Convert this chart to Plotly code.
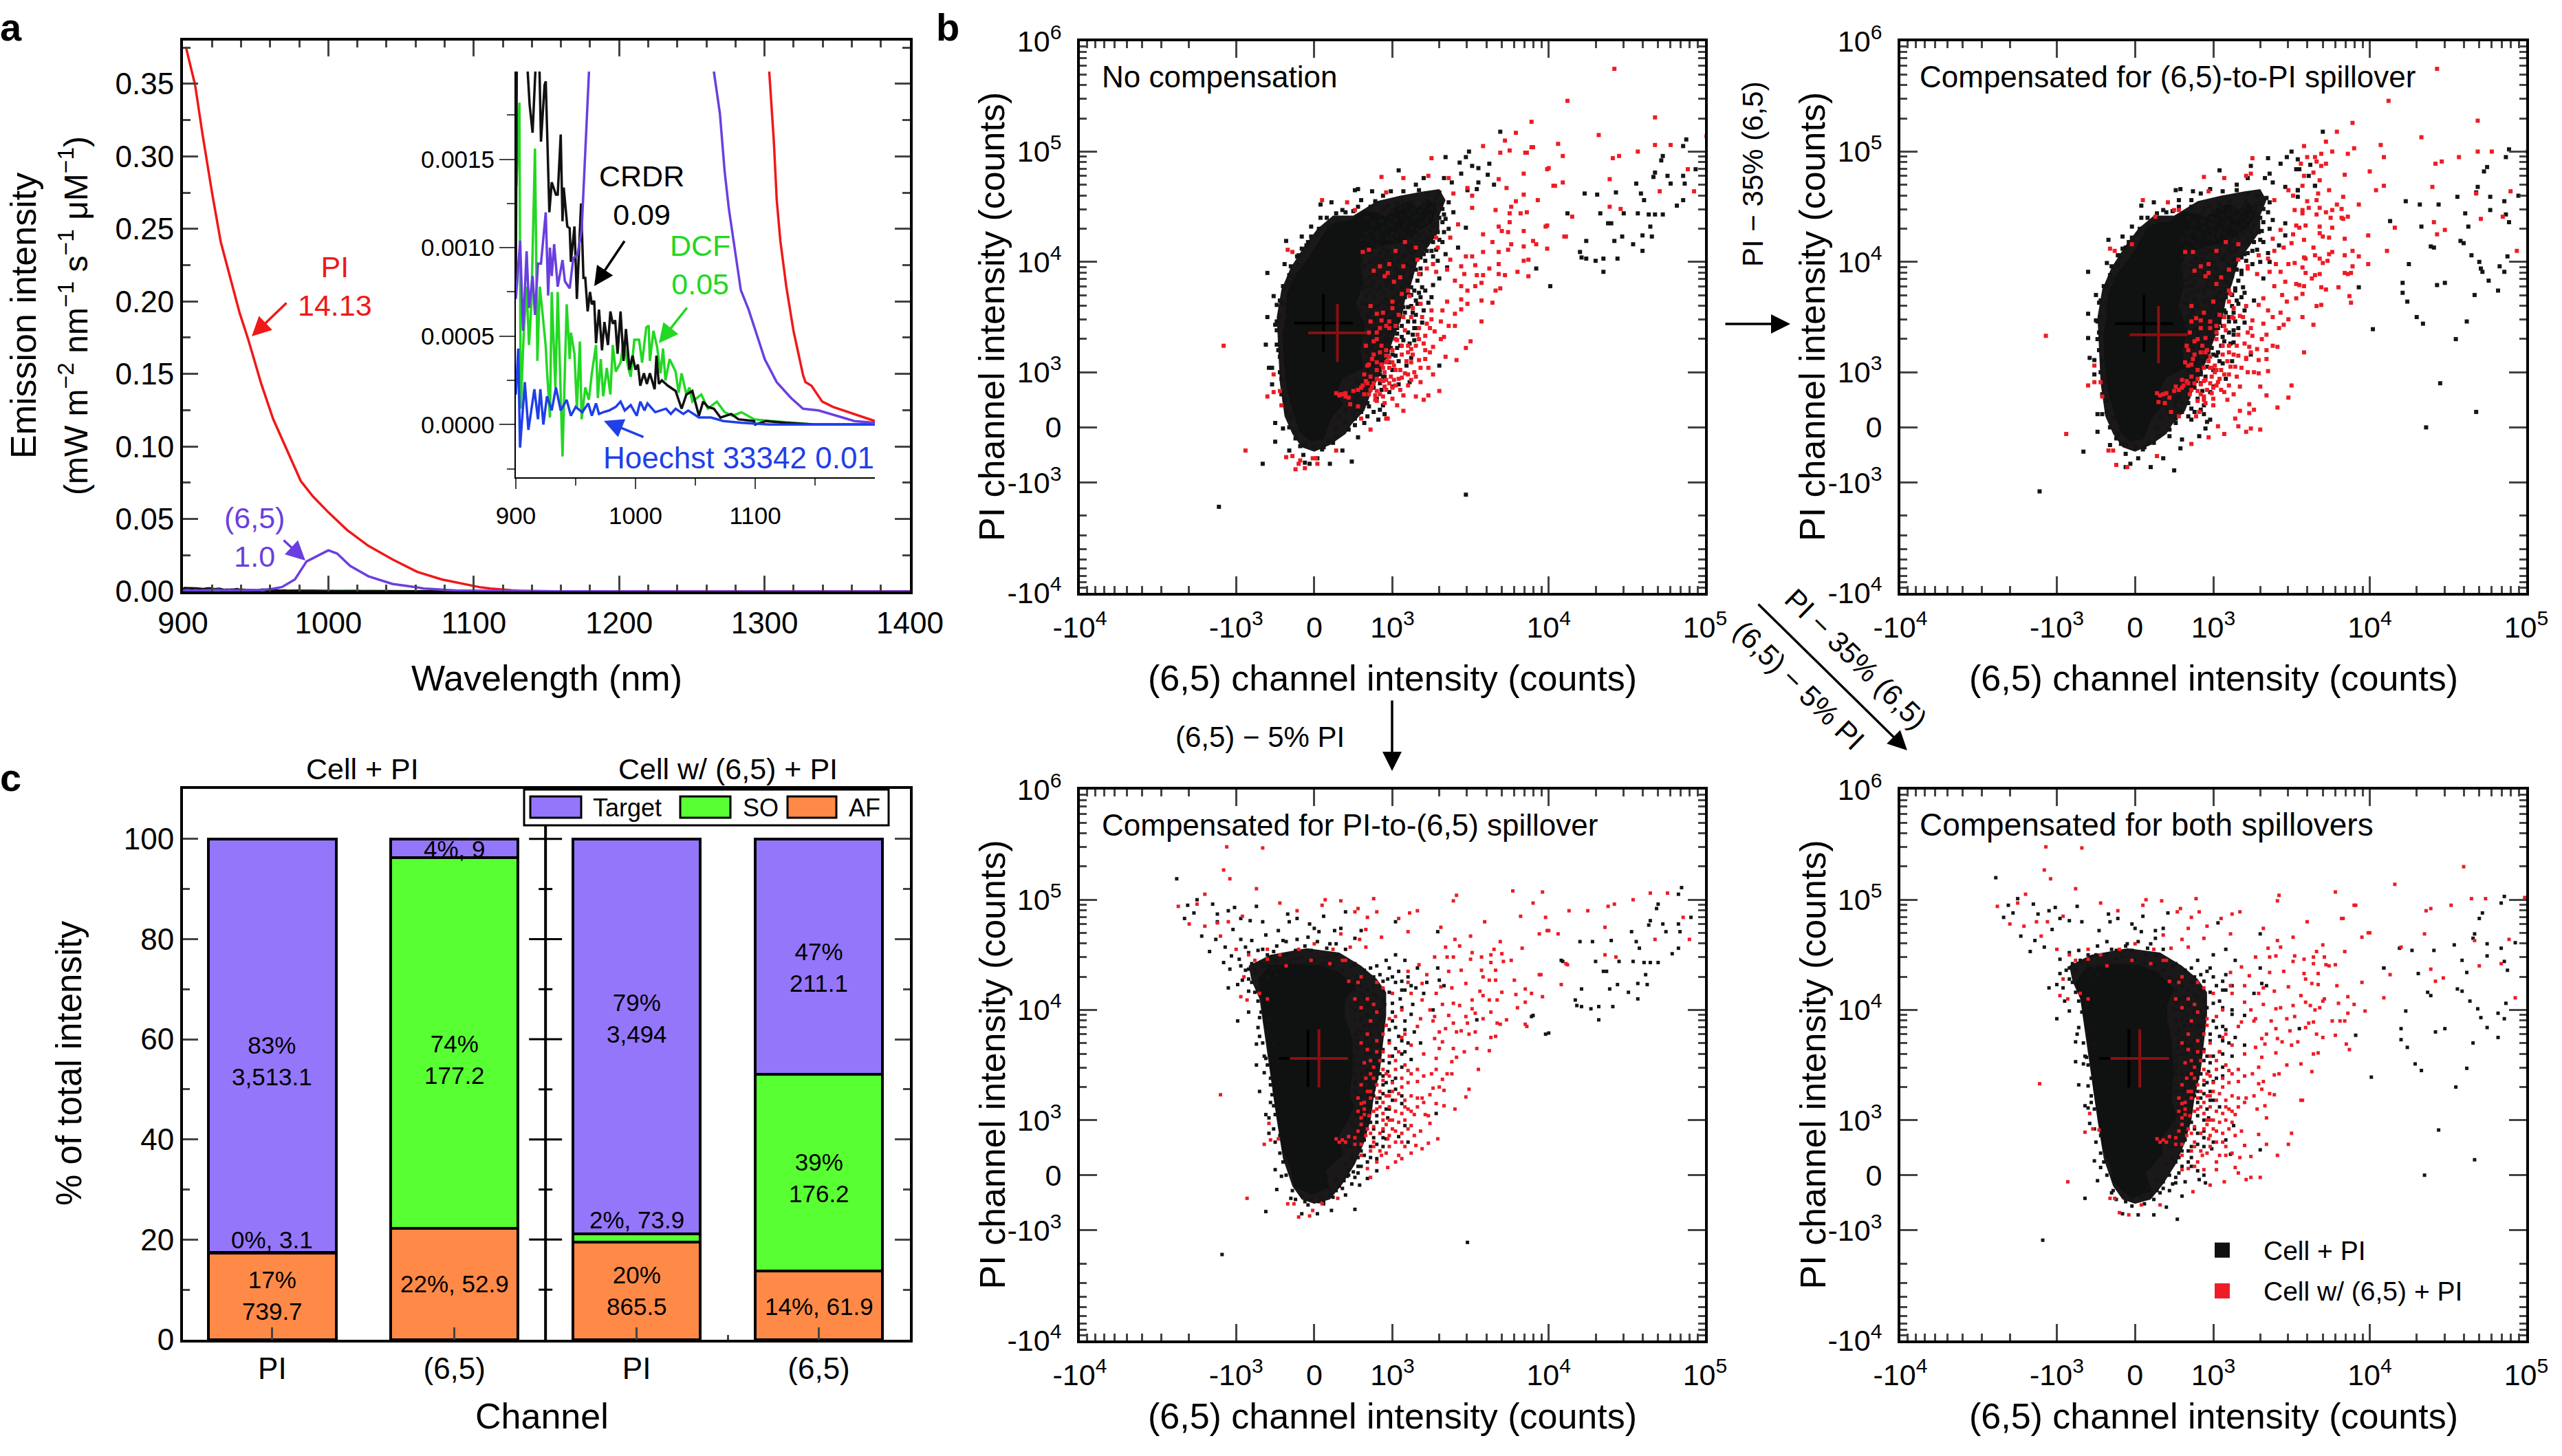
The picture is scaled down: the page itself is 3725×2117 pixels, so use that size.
"""Spectra, spillover compensation scatter plots and channel composition bars."""

import math

import plotly.graph_objects as go

W, H = 3725, 2117
FONT = "Liberation Sans"

PURPLE = "#6a3fe0"
RED = "#f01818"
GREEN = "#22d822"
BLUE = "#1f3fe8"

# panel a: emission spectra, wavelength (nm) and intensity
PI_NM = [902, 908.4, 913.5, 920, 926, 932.5, 939, 945, 953.6, 962, 970.5, 981, 989.5, 1000, 1013, 1027.5,
         1044, 1061, 1078, 1099, 1105, 1111.8, 1115.6, 1118, 1121, 1126, 1132, 1140, 1142, 1147, 1156, 1165,
         1183, 1200, 1250, 1400]
PI_VAL = [0.3756, 0.349, 0.315, 0.275, 0.241, 0.217, 0.192, 0.1735, 0.144, 0.119, 0.0994, 0.0762, 0.0654,
          0.0546, 0.0423, 0.0315, 0.0222, 0.0136, 0.0083, 0.0037, 0.0028, 0.00199, 0.0016, 0.00127, 0.00104,
          0.00078, 0.00053, 0.00028, 0.00024, 0.00022, 0.00013, 0.0001, 0.00006, 0.00002, 0, 0]

SWCNT_NM = [900, 903.6, 906, 909, 911, 914, 916, 918.5, 921, 925, 927, 928.5, 930, 932, 935, 939, 941, 945,
            948, 951.5, 955, 959, 962.5, 968, 977, 985, 994, 1000, 1006, 1015, 1027.5, 1044, 1061, 1065.6,
            1070.5, 1074.5, 1078, 1083, 1088, 1094.5, 1100.5, 1108, 1118, 1130, 1140, 1153, 1168, 1183, 1200,
            1400]
SWCNT_VAL = [0.00071, 0.00104, 0.00053, 0.00098, 0.00066, 0.00084, 0.00062, 0.00091, 0.00091, 0.0012, 0.00073,
             0.001, 0.00084, 0.00102, 0.00078, 0.00093, 0.00081, 0.00077, 0.00094, 0.00096, 0.0011, 0.0016,
             0.00199, 0.003, 0.0083, 0.0207, 0.0253, 0.0284, 0.0262, 0.0176, 0.0105, 0.0052, 0.0028, 0.00199,
             0.00176, 0.00143, 0.00122, 0.00098, 0.00076, 0.00065, 0.00053, 0.00037, 0.00024, 0.00015, 0.00009,
             0.00008, 0.00005, 0.00002, 0.00001, 0]

CRDR_NM = [900, 901, 909, 911.5, 914, 917, 919.5, 921, 924, 925, 928, 930, 933.5, 935, 937.5, 939, 940, 943,
           945, 946, 949, 951, 954.5, 956.5, 958, 960, 962, 963.5, 965.5, 967, 969.5, 972, 974, 977, 979, 981,
           983, 985, 987.5, 990, 992, 995, 997.5, 1000, 1002, 1004, 1007, 1009.5, 1012, 1014, 1016, 1017.5,
           1019.5, 1022, 1027, 1033.5, 1038.5, 1042.5, 1047.5, 1053, 1056.5, 1060.5, 1065.5, 1071, 1080, 1086,
           1099, 1100, 1109, 1125, 1150, 1200, 1400]
CRDR_VAL = [0.00078, 0.0024, 0.0021, 0.00181, 0.00165, 0.0021, 0.0021, 0.0016, 0.00192, 0.00194, 0.0012, 0.00137,
            0.0013, 0.0013, 0.00164, 0.00115, 0.00134, 0.00112, 0.00111, 0.00092, 0.00112, 0.00071, 0.00125,
            0.00083, 0.00083, 0.00064, 0.00075, 0.00068, 0.0007, 0.00046, 0.00065, 0.00042, 0.00058, 0.00045,
            0.00064, 0.00057, 0.00059, 0.0004, 0.00064, 0.00036, 0.00054, 0.00031, 0.00039, 0.00031, 0.00034,
            0.00022, 0.00029, 0.00023, 0.00029, 0.00024, 0.0002, 0.00039, 0.00023, 0.00025, 0.00022, 0.00019,
            0.00009, 0.00017, 0.00019, 0.00005, 0.00013, 0.0001, 0.00009, 0.00004, 0.00006, 0.00003, 0.00002, 0,
            0.00002, 0.00001, 0, 0, 0]

DCF_NM = [900.5, 903, 904, 906.5, 909, 911, 913, 916, 918, 920, 922, 925, 926, 928.5, 930, 933, 935, 939, 942.5,
          945, 946, 949, 951, 953.5, 955, 958, 961, 963.5, 967, 968.5, 971, 973, 976, 979, 981, 983.5, 987.5, 990,
          994, 996, 999, 1003, 1005.5, 1009, 1011, 1012, 1015, 1018, 1021, 1023, 1025, 1028.5, 1033.5, 1036,
          1038.5, 1042.5, 1045, 1047.5, 1055, 1060.5, 1068, 1074.5, 1081, 1088.5, 1099, 1114, 1150, 1200, 1400]
DCF_VAL = [0.00135, 0.00182, 0.00009, 0.0005, 0.00078, 0.00045, 0.00068, 0.00156, 0.00036, 0.00078, 0.00065,
           0.00044, 0.00031, 0.00004, 0.00075, 0.00021, 0.00075, -0.00018, 0.00068, 0.00037, 0.00052, 0.0004,
           0.00009, 0.00047, 0.00003, 0.00021, 0.00014, 0.00029, 0.00045, 0.00015, 0.00037, 0.00016, 0.00032,
           0.00017, 0.00045, 0.0003, 0.00035, 0.00047, 0.00032, 0.00027, 0.00048, 0.00048, 0.00035, 0.00055,
           0.00056, 0.00036, 0.00053, 0.00044, 0.00029, 0.00043, 0.00025, 0.00037, 0.0003, 0.00018, 0.00029,
           0.00017, 0.00021, 0.00013, 0.00017, 0.00009, 0.00013, 0.00007, 0.00005, 0.00007, 0.00003, 0.00002, 0,
           0, 0]

HOECHST_NM = [900, 902, 903.5, 907.5, 910.5, 915.5, 918.5, 920.5, 923, 926, 930, 933.5, 937.5, 942.5, 946, 950,
              955.5, 960.5, 963.5, 967, 969.5, 973, 978, 983.5, 987.5, 991, 996, 1001, 1004, 1007.5, 1010, 1016.5,
              1025.5, 1029.5, 1033.5, 1040, 1044, 1053, 1063, 1073.5, 1089, 1112, 1200, 1400]
HOECHST_VAL = [0.00017, 0.00043, -0.00013, 0.00024, -0.00003, 0.0002, 0.00003, 0.0002, 0, 0.00016, 0.00008,
               0.00021, 0.00008, 0.00014, 0.00005, 0.0001, 0.00007, 0.00012, 0.00005, 0.00012, 0.00006, 0.00007,
               0.00008, 0.0001, 0.00013, 0.00008, 0.00011, 0.00005, 0.00013, 0.00008, 0.00012, 0.00007, 0.00009,
               0.00006, 0.00009, 0.00006, 0.00008, 0.00004, 0.00004, 0.00002, 0.00001, 0, 0, 0]

# panel c: share of total intensity per channel
BAR_POS = [0, 1, 2, 3]
BAR_LABELS = ["PI", "(6,5)", "PI", "(6,5)"]
AF_SHARE = [17.3, 22.2, 19.5, 13.7]
SO_SHARE = [0.1, 74.1, 1.7, 39.3]
TARGET_SHARE = [82.6, 3.7, 78.8, 47.0]
BAR_TEXT = [
    (0, 55.7, "83%<br>3,513.1"), (0, 20.0, "0%, 3.1"), (0, 8.8, "17%<br>739.7"),
    (1, 98.0, "4%, 9"), (1, 56.0, "74%<br>177.2"), (1, 11.2, "22%, 52.9"),
    (2, 64.2, "79%<br>3,494"), (2, 23.9, "2%, 73.9"), (2, 9.8, "20%<br>865.5"),
    (3, 74.3, "47%<br>211.1"), (3, 32.4, "39%<br>176.2"), (3, 6.6, "14%, 61.9"),
]

# panel b: channel values on the display scale, 100 units per decade, 0 at zero counts
# outline of the speckled zone round the core, too crowded to pick out every point
UPPER_HAZE = [(25, 192), (40, 205), (55, 210), (70, 214), (80, 216), (84, 206), (80, 192), (80, 178), (74, 166), (66, 150), (62, 130), (58, 115),
              (56, 100), (52, 85), (48, 70), (44, 55), (40, 42), (36, 30), (32, 15), (24, 3), (20, -6), (10, -16), (0, -22), (-8, -18), (-14, -6),
              (-19, 10), (-22, 40), (-23, 70), (-24, 100), (-21, 125), (-15, 145), (-6, 165), (2, 180), (12, 192)]
LOWER_HAZE = [(-42, 190), (-28, 200), (-5, 206), (16, 202), (30, 190), (40, 178), (46, 166), (46, 145), (44, 120), (42, 95), (38, 70), (36, 50),
              (32, 30), (26, 10), (18, -8), (10, -22), (0, -26), (-8, -22), (-14, -10), (-20, 15), (-24, 50), (-28, 90), (-32, 130), (-35, 160), (-40, 176)]

P1_BLOB = [(-18, 103), (-17, 121), (-12, 137), (-4, 152), (1, 163), (9, 181), (15, 186), (23, 187), (32, 196), (40, 194),
           (46, 190), (52, 199), (60, 204), (66, 198), (73, 206), (78, 198), (75, 186), (66, 178), (62, 172), (54, 168),
           (46, 166), (32, 160), (29, 148), (31, 130), (26, 112), (32, 92), (29, 70), (31, 54), (18, 45), (13, 30), (18, 21),
           (10, 8), (6, -10), (-2, -12), (-9, -4), (-13, 14), (-17, 34), (-19, 59), (-20, 86)]
P1_BLACK = [(119, 268), (238, 261), (236, 255), (223, 246), (222, 242), (218, 231), (217, 227), (226, 228), (236, 228),
            (228, 221), (237, 221), (206, 221), (244, 234), (193, 213), (181, 211), (173, 212), (209, 212), (211, 206),
            (236, 206), (232, 201), (183, 194), (162, 194), (207, 194), (198, 194), (214, 193), (218, 193), (223, 193),
            (190, 185), (188, 185), (215, 182), (210, 174), (216, 173), (197, 173), (192, 169), (174, 169), (204, 166),
            (210, 160), (170, 159), (171, 154), (174, 153), (180, 151), (185, 153), (194, 153), (185, 141), (142, 144),
            (151, 128), (97, -61), (-61, -72), (-33, -33), (24, -31), (-30, 140), (-30, 100), (-31, 75), (-26, 119),
            (-24, 111), (-25, 93), (-24, 75), (-29, 54), (-27, 54), (-27, 39), (-25, 4), (-20, -1), (-25, -13),
            (-16, -21), (10, -33), (18, -21), (28, -9), (32, 4), (26, 2), (-18, 169), (-8, 173), (-19, 148), (-11, 155),
            (4, 202), (11, 204), (26, 215), (28, 216), (37, 214), (54, 233), (84, 245), (99, 250), (97, 245), (93, 240),
            (112, 239), (101, 237), (111, 229), (105, 235), (115, 220), (104, 216),
            (53, 203), (58, 200), (62, 204), (67, 215), (73, 211), (80, 213), (78, 208), (81, 202), (75, 198), (83, 193),
            (72, 186), (78, 184), (84, 189), (89, 195), (83, 177), (73, 172), (65, 170), (59, 166), (52, 168), (49, 155),
            (54, 151), (62, 146), (68, 144), (76, 155), (79, 151), (72, 160), (84, 157), (46, 155), (54, 140), (46, 129),
            (51, 118), (56, 127), (62, 127), (71, 124), (76, 129), (67, 122), (42, 127), (38, 118), (37, 109), (51, 107),
            (57, 109), (60, 109), (49, 100), (54, 97), (65, 102), (35, 92), (42, 85), (46, 81), (53, 85), (57, 79),
            (64, 79), (37, 72), (42, 77), (53, 72), (40, 68), (37, 57), (42, 52), (73, 113), (62, 63), (80, 56), (61, 41),
            (54, 39), (50, 37), (43, 34), (27, 41), (26, 30), (24, 21), (35, 19), (41, 7), (45, 12), (25, 13), (20, 5),
            (14, -1), (14, -8), (9, -12), (30, 23), (48, 59), (44, 46), (37, 37), (33, 31), (59, 56), (64, 90), (69, 95),
            (75, 118), (80, 135), (85, 145), (92, 163), (97, 181), (98, 215), (105, 222), (88, 222), (94, 230), (83, 226),
            (70, 226), (65, 220), (57, 214), (49, 214), (44, 210), (39, 205), (30, 206), (25, 196), (18, 197), (15, 187),
            (9, 183), (3, 180), (-2, 173), (-5, 165), (-10, 147), (-13, 137), (-16, 131), (-19, 126), (-20, 112), (-22, 100),
            (-24, 88), (-22, 64), (-21, 44), (-19, 25), (-15, 10), (-12, -4), (-9, -17), (-7, -25), (-3, -33), (2, -28),
            (5, -20), (-6, -32)]
P1_RED = [(192, 325), (162, 296), (218, 281), (182, 265), (139, 277), (129, 267), (122, 260), (108, 255), (156, 257),
          (159, 246), (139, 254), (135, 249), (191, 244), (195, 246), (207, 250), (218, 256), (228, 256), (149, 234),
          (134, 230), (189, 225), (153, 219), (159, 222), (221, 214), (239, 234), (243, 214), (189, 200), (196, 198),
          (165, 191), (161, 173), (148, 182), (251, 264), (-58, 74), (-44, -21), (-30, 28), (-26, 48), (-26, 32),
          (-22, 33), (-21, 20), (-18, -27), (-14, -26), (-12, -38), (-6, -37), (1, -28), (14, -21), (36, -2), (47, 8),
          (57, 15), (53, 20), (73, 29), (80, 33), (70, 25), (65, 28), (97, 72), (100, 78), (107, 96), (91, 61), (84, 64),
          (76, 48), (73, 54), (-17, 161), (-14, 159), (5, 206), (43, 227), (57, 226), (75, 244), (125, 251), (119, 249),
          (136, 249), (140, 254), (150, 235), (154, 219), (143, 206), (134, 211), (123, 217), (118, 225), (129, 205),
          (126, 200), (132, 194), (136, 195), (125, 194), (149, 183), (160, 173), (134, 178), (125, 186), (118, 182),
          (120, 178), (124, 177), (108, 175), (140, 169), (142, 166), (149, 162), (134, 164), (126, 166), (124, 161),
          (118, 159), (114, 168), (108, 159), (137, 152), (134, 151), (118, 148), (112, 144), (130, 141), (137, 137),
          (122, 138), (118, 139), (108, 138), (104, 138), (103, 147), (94, 146), (97, 155), (101, 155), (87, 152),
          (85, 143), (78, 141), (76, 148), (96, 139), (90, 133), (94, 128), (98, 124), (103, 128), (107, 131), (116, 124),
          (119, 126), (107, 115), (114, 113), (98, 112), (94, 116), (85, 114), (90, 103), (94, 107), (82, 106), (75, 106),
          (81, 96), (86, 92), (90, 92), (72, 94), (67, 90), (75, 98), (83, 82), (77, 87), (71, 83), (81, 80), (76, 73),
          (67, 80), (62, 71), (71, 70), (67, 61), (62, 59), (56, 45), (58, 49), (62, 43), (68, 41), (57, 29), (51, 43),
          (45, 50), (46, 59), (50, 70), (53, 79), (46, 92), (40, 103), (50, 108), (56, 121), (61, 119), (68, 112), (67, 139),
          (57, 146), (48, 148), (45, 137), (51, 132), (65, 163), (79, 163), (78, 172), (87, 172), (92, 184), (101, 199),
          (116, 197), (98, 217), (101, 210), (89, 212), (86, 226), (73, 228), (35, 161), (31, 159), (26, 197), (21, 204),
          (46, 213), (32, 48), (37, 37), (32, 30), (17, 30), (20, 28), (23, 21), (28, 19), (42, 43), (46, 43), (39, 25),
          (39, 29), (46, 8), (30, 8), (45, 37), (35, 57), (40, 59), (43, 57), (50, 59), (46, 65), (40, 86), (43, 97), (64, 50),
          (-9, -30), (-1, -28), (2, -33), (-10, -33)]

P2_BLOB = [(-18, 103), (-17, 121), (-12, 137), (-4, 152), (1, 162), (8, 181), (15, 185), (22, 186), (31, 195), (39, 193),
           (45, 189), (52, 198), (60, 202), (66, 196), (72, 203), (78, 196), (72, 182), (62, 172), (54, 167), (46, 165), (32, 158),
           (29, 147), (31, 128), (27, 110), (33, 90), (30, 70), (31, 54), (19, 45), (14, 30), (18, 22), (10, 8), (5, -10), (-3, -12),
           (-9, -4), (-13, 14), (-17, 34), (-19, 59), (-20, 86)]
P2_BLACK = [(120, 268), (111, 228), (112, 238), (115, 219), (105, 234), (104, 215), (104, 209), (143, 127), (152, 89),
            (163, 187), (173, 205), (182, 202), (194, 202), (183, 182), (189, 164), (191, 163), (175, 148), (171, 131),
            (171, 122), (174, 114), (180, 100), (184, 94), (193, 129), (198, 131), (206, 209), (211, 194), (213, 182),
            (208, 169), (210, 167), (215, 156), (220, 150), (221, 144), (222, 141), (226, 133), (217, 120), (212, 96),
            (205, 80), (195, 40), (218, 14), (186, 0), (219, 218), (218, 213), (223, 232), (225, 236), (237, 245), (239, 252),
            (227, 209), (227, 197), (236, 205), (237, 193), (239, 186), (245, 210), (238, 155), (233, 146), (236, 141),
            (232, 124), (-30, 141), (-30, 103), (-30, 81), (-25, 120), (-23, 113), (-25, 97), (-24, 80), (-29, 63), (-26, 61),
            (-26, 48), (-24, 12), (-21, 12), (-24, -4), (-16, -16), (-33, -22), (-61, -58), (10, -36), (25, -39), (18, -28),
            (29, -19), (30, -11), (22, -8), (41, -8), (45, -1), (46, 5), (36, 7), (26, 4), (-17, 170), (-8, 173), (-18, 149),
            (-11, 156), (4, 201), (12, 204), (26, 215), (29, 216), (37, 214), (54, 233), (74, 237), (85, 244), (97, 245),
            (100, 250), (93, 239), (104, 243), (103, 234), (86, 230), (115, 219), (104, 215), (96, 174),
            (54, 203), (60, 205), (65, 215), (72, 212), (78, 210), (84, 208), (80, 203), (85, 195), (76, 198), (88, 188),
            (78, 190), (72, 180), (81, 178), (66, 172), (60, 168), (54, 165), (50, 160), (56, 152), (63, 146), (68, 142),
            (75, 148), (80, 150), (72, 158), (85, 158), (45, 158), (54, 138), (46, 128), (52, 118), (58, 125), (64, 126),
            (70, 122), (44, 125), (38, 116), (36, 108), (50, 105), (57, 106), (60, 100), (48, 98), (54, 95), (33, 92), (40, 85),
            (46, 80), (52, 85), (57, 78), (63, 77), (37, 72), (42, 75), (53, 68), (40, 65), (36, 55), (42, 50), (62, 60), (74, 66),
            (58, 44), (50, 37), (43, 33), (31, 36), (27, 28), (25, 20), (36, 17), (44, 12), (48, 7), (22, 11), (14, -1), (15, -8),
            (9, -14), (30, 22), (46, 55), (39, 42), (36, 37), (34, 28), (56, 58), (63, 88), (70, 95), (76, 115), (82, 135),
            (86, 150), (92, 165), (96, 185), (96, 218), (88, 222), (83, 226), (72, 226), (65, 220), (56, 214), (48, 216),
            (42, 212), (36, 206), (28, 206), (24, 196), (18, 197), (14, 187), (9, 183), (3, 180), (-2, 172), (-6, 163), (-11, 147),
            (-14, 135), (-18, 128), (-19, 112), (-22, 100), (-23, 86), (-21, 60), (-20, 42), (-18, 24), (-14, 8), (-11, -6),
            (-9, -15), (-6, -24), (-3, -33), (2, -28), (5, -20), (-6, -36)]
P2_RED = [(193, 325), (162, 296), (219, 278), (139, 276), (129, 268), (122, 259), (108, 255), (183, 263), (157, 256),
          (159, 245), (140, 253), (136, 248), (126, 250), (119, 248), (110, 245), (115, 245), (116, 241), (122, 239),
          (119, 237), (106, 239), (207, 245), (219, 250), (228, 250), (192, 239), (196, 241), (251, 250), (150, 232),
          (134, 229), (118, 224), (108, 228), (114, 231), (107, 219), (159, 219), (154, 215), (124, 215), (117, 212),
          (190, 218), (240, 214), (218, 212), (116, 206), (110, 205), (133, 209), (143, 202), (129, 202), (132, 198),
          (126, 197), (122, 195), (118, 199), (111, 199), (107, 197), (107, 194), (116, 193), (125, 190), (132, 190),
          (133, 189), (136, 191), (109, 183), (105, 181), (118, 182), (126, 181), (118, 176), (120, 173), (124, 172),
          (134, 171), (108, 170), (149, 174), (166, 181), (191, 186), (193, 175), (198, 179), (221, 189), (235, 191),
          (244, 160), (161, 160), (139, 160), (143, 155), (134, 156), (126, 159), (124, 157), (123, 151), (118, 153),
          (115, 156), (114, 163), (108, 154), (109, 153), (120, 149), (107, 145), (109, 140), (149, 148), (139, 146),
          (134, 140), (136, 139), (138, 140), (118, 139), (115, 138), (113, 135), (108, 128), (105, 129), (119, 127),
          (122, 125), (130, 127), (137, 119), (138, 113), (107, 121), (116, 110), (119, 111), (107, 100), (114, 93), (108, 68),
          (-57, 83), (-44, -6), (-30, 38), (-26, 41), (-22, 41), (-26, 56), (-21, 28), (-17, -21), (-14, -21), (-12, -34),
          (-5, -36), (14, -26), (36, -15), (47, -9), (57, -6), (53, 1), (71, -4), (74, -1), (80, -2), (66, 1), (64, 8), (91, 18),
          (98, 27), (100, 38), (80, 37), (84, 29), (73, 21), (76, 16), (73, 13), (67, 15), (63, 30), (67, 37), (59, 25), (88, 74),
          (91, 73), (84, 70), (84, 62), (79, 61), (72, 50), (76, 50), (79, 49), (85, 51), (71, 63), (78, 71), (73, 73), (66, 65),
          (61, 55), (64, 55), (57, 48), (53, 41), (57, 32), (49, 31), (44, 25), (50, 20), (41, 14), (39, 10), (28, 10), (23, 14),
          (15, 23), (19, 22), (26, 37), (30, 43), (32, 59), (36, 57), (42, 39), (45, 43), (49, 54), (51, 50), (45, 68), (34, 70),
          (39, 99), (42, 97), (45, 81), (52, 86), (57, 92), (63, 99), (67, 101), (71, 110), (60, 114), (61, 121), (72, 86), (75, 83),
          (81, 80), (75, 97), (82, 94), (84, 84), (79, 111), (85, 106), (93, 104), (98, 98), (92, 90), (95, 93), (88, 100), (82, 117),
          (89, 128), (94, 120), (97, 114), (103, 117), (96, 132), (103, 130), (78, 139), (86, 141), (93, 141), (90, 148), (98, 148),
          (102, 149), (85, 153), (79, 156), (89, 160), (95, 163), (100, 167), (88, 171), (93, 179), (101, 175), (103, 183), (89, 206),
          (102, 197), (98, 215), (101, 210), (75, 244), (57, 226), (44, 227), (5, 206), (21, 204), (28, 197), (47, 214), (71, 228),
          (74, 230), (32, 159), (37, 159), (66, 166), (72, 146), (60, 143), (47, 148), (45, 137), (52, 130), (-16, 162), (-13, 160),
          (-2, 166), (13, 191), (25, 197)]

P3_BLOB = [(-36, 177), (-28, 190), (-11, 191), (3, 190), (15, 184), (26, 172), (19, 159), (19, 144), (24, 124), (24, 93),
           (22, 73), (25, 63), (20, 47), (15, 35), (18, 19), (7, 4), (9, -11), (-1, -17), (-12, -11), (-15, 7), (-20, 24),
           (-23, 50), (-26, 75), (-29, 114), (-32, 139), (-33, 157)]
P3_BLACK = [(-88, 269), (-81, 245), (-75, 250), (-83, 233), (-77, 238), (-65, 246), (-55, 240), (-51, 243), (-37, 244),
            (-62, 237), (-62, 230), (-72, 217), (-67, 203), (-57, 207), (-63, 214), (-52, 223), (-47, 233), (-41, 231), (-33, 230),
            (-17, 237), (-11, 233), (6, 235), (-3, 228), (-16, 230), (-23, 222), (0, 224), (3, 221), (13, 222), (17, 224), (20, 239),
            (-4, 216), (-11, 214), (-20, 213), (-31, 218), (-40, 213), (-47, 214), (-44, 207), (-33, 205), (-26, 203), (-53, 199),
            (-58, 193), (-47, 190), (-54, 187), (-42, 187), (-46, 177), (-40, 175), (-35, 171), (-49, 173), (-55, 170), (-42, 167),
            (-33, 159), (-42, 148), (-49, 140), (-35, 143), (-29, 142), (-36, 134), (-35, 126), (-37, 119), (-31, 106), (-37, 100),
            (-32, 93), (-35, 76), (-28, 82), (-27, 73), (-26, 63), (-31, 55), (-29, 52), (-25, 55), (-29, 38), (-25, 5), (-21, -1),
            (-24, -13), (-15, -21), (-31, -33), (11, -32), (26, -31), (10, -13), (19, -5), (21, -1), (29, -9), (25, 3), (6, -24),
            (3, -24), (-8, -35), (2, -35), (-59, -72), (98, -61), (78, 56), (104, 141), (140, 145), (150, 129), (79, 221), (52, 230),
            (79, 188), (80, 177), (158, 195),
            (40, 190), (46, 195), (52, 200), (58, 195), (54, 185), (47, 178), (38, 172), (44, 168), (52, 175), (60, 180), (65, 170),
            (70, 165), (63, 155), (55, 160), (45, 155), (36, 158), (30, 165), (28, 180), (24, 190), (20, 205), (14, 210), (8, 198),
            (35, 145), (42, 142), (50, 148), (58, 140), (64, 130), (68, 120), (48, 132), (36, 128), (30, 130), (28, 115), (36, 110),
            (42, 118), (52, 115), (58, 112), (62, 105), (30, 100), (34, 95), (44, 90), (50, 85), (52, 78), (38, 78), (30, 72), (26, 85),
            (28, 60), (36, 62), (48, 60), (56, 65), (32, 50), (40, 48), (30, 38), (38, 34), (46, 33), (54, 35), (28, 25), (32, 18),
            (40, 15), (28, 8), (22, 5), (34, -3), (58, 45), (60, 30), (56, 72), (76, 150), (83, 172), (66, 188), (72, 175), (16, -10),
            (20, -18), (12, -20), (-4, -27), (26, 215), (30, 222), (5, 190), (-5, 192), (-15, 195), (-25, 195), (-33, 190), (-38, 183),
            (170, 212), (178, 212), (159, 194), (180, 194), (195, 194), (204, 194), (211, 193), (215, 193), (220, 193), (187, 185),
            (185, 185), (212, 182), (207, 174), (213, 173), (194, 173), (189, 169), (171, 169), (201, 166), (207, 160), (167, 159),
            (168, 154), (171, 153), (177, 151), (182, 153), (191, 153), (182, 141), (139, 144), (148, 128), (235, 261), (233, 255),
            (220, 246), (219, 242), (215, 231), (214, 227), (223, 228), (233, 228), (225, 221), (234, 221), (203, 221), (241, 234),
            (190, 213), (206, 212), (208, 206), (233, 206), (229, 201)]
P3_RED = [(-56, 298), (-33, 297), (-58, 277), (-54, 269), (-37, 260), (-70, 255), (-87, 244), (-75, 246), (-80, 228), (-70, 226),
          (-62, 229), (-55, 230), (-46, 235), (-22, 247), (-11, 240), (5, 245), (7, 250), (17, 249), (38, 251), (40, 239), (26, 239),
          (28, 242), (34, 234), (54, 233), (61, 238), (66, 240), (89, 249), (91, 254), (127, 258), (140, 247), (132, 235), (109, 230),
          (149, 222), (144, 219), (81, 225), (100, 217), (90, 214), (119, 212), (133, 206), (115, 205), (93, 208), (84, 207), (60, 221),
          (43, 216), (33, 223), (29, 214), (33, 207), (23, 207), (17, 219), (101, 202), (107, 198), (113, 200), (120, 201), (126, 195),
          (121, 194), (113, 193), (161, 192), (100, 196), (89, 198), (85, 198), (77, 198), (67, 191), (72, 182), (60, 185), (86, 185),
          (94, 186), (107, 186), (116, 186), (144, 182), (108, 180), (112, 177), (116, 177), (128, 177), (158, 173), (97, 174), (88, 170),
          (106, 167), (81, 171), (69, 174), (60, 175), (135, 169), (120, 166), (139, 165), (129, 164), (146, 162), (108, 163), (112, 159),
          (117, 159), (101, 159), (89, 156), (93, 154), (78, 165), (69, 159), (101, 151), (97, 144), (103, 147), (135, 157), (130, 152),
          (113, 148), (108, 142), (86, 145), (77, 144), (68, 142), (123, 141), (117, 138), (119, 137), (135, 137), (136, 135), (89, 138),
          (98, 138), (84, 133), (91, 130), (94, 131), (103, 130), (99, 128), (80, 130), (77, 124), (116, 126), (113, 125), (104, 115),
          (112, 113), (82, 121), (89, 115), (80, 115), (96, 112), (91, 107), (88, 103), (78, 106), (105, 96), (85, 92), (88, 92), (78, 96),
          (82, 87), (80, 80), (76, 79), (83, 77), (99, 78), (97, 71), (74, 73), (69, 70), (78, 65), (83, 63), (90, 60), (71, 55), (74, 47),
          (73, 54), (79, 33), (73, 29), (69, 24), (65, 27), (-43, -21), (-60, 73), (-32, 28), (-28, 32), (-23, 33), (-29, 47), (-47, 162),
          (-43, 159), (56, 15), (47, 7), (36, -2), (15, -21), (-17, -26), (-13, -26), (-10, -38), (-3, -37), (5, -26), (-1, -32),
          (40, 60), (44, 50), (50, 42), (56, 38), (62, 45), (47, 33), (38, 30), (36, 22), (43, 18), (52, 12), (30, 28), (32, 55), (30, 65),
          (34, 76), (38, 88), (44, 96), (36, 104), (40, 112), (48, 120), (56, 125), (62, 118), (70, 110), (75, 92), (66, 85), (60, 95),
          (56, 80), (66, 70), (60, 60), (52, 68), (46, 72), (64, 55), (58, 50), (68, 40), (48, 142), (56, 150), (38, 155), (28, 175), (20, 195),
          (12, 205), (0, 210), (-10, 205), (-22, 200), (-30, 205), (-38, 195), (-50, 205), (-60, 217), (-45, 180), (-35, 165), (40, 175),
          (50, 165), (62, 165), (74, 150), (82, 155), (76, 140), (66, 135), (58, 128),
          (186, 200), (193, 198), (218, 214), (162, 191), (145, 182), (148, 234), (150, 222), (156, 219), (146, 257), (215, 256), (226, 256),
          (186, 225), (236, 234), (240, 214), (188, 244), (192, 246), (204, 250), (163, 240), (175, 240)]

P4_BLOB = [(-38, 174), (-31, 188), (-13, 191), (2, 190), (14, 184), (24, 169), (20, 154), (20, 142), (23, 121), (24, 93), (23, 68),
           (26, 52), (17, 35), (17, 19), (6, 2), (10, -14), (-2, -20), (-14, -6), (-15, 7), (-20, 24), (-23, 50), (-26, 75), (-29, 114),
           (-32, 139), (-34, 157)]
P4_BLACK = [(151, 89), (159, 188), (169, 206), (177, 204), (191, 204), (181, 183), (187, 166), (189, 163), (173, 149), (170, 133),
            (170, 123), (174, 116), (179, 101), (183, 95), (192, 130), (198, 133), (204, 209), (209, 195), (212, 184), (206, 169), (209, 167),
            (214, 158), (219, 151), (221, 143), (225, 134), (216, 120), (212, 97), (205, 80), (194, 41), (217, 14), (185, 0), (217, 219),
            (216, 215), (220, 233), (222, 238), (234, 247), (236, 253), (225, 210), (225, 199), (234, 206), (236, 194), (238, 186), (243, 211),
            (237, 156), (232, 147), (236, 142), (232, 125), (141, 127), (105, 133), (-89, 270), (-81, 245), (-75, 251), (-84, 234), (-78, 238),
            (-65, 246), (-55, 240), (-51, 243), (-37, 244), (-62, 237), (-73, 217), (-67, 203), (-58, 207), (-64, 213), (-53, 223), (-48, 233),
            (-42, 231), (-34, 230), (-17, 237), (-11, 233), (5, 235), (-2, 228), (-16, 230), (-23, 222), (0, 224), (4, 221), (13, 222), (18, 224),
            (21, 238), (53, 229), (80, 219), (80, 188), (81, 174), (159, 188), (-59, -59), (-32, -21), (-24, -5), (-26, 13), (-22, 7),
            (-15, -16), (12, -36), (27, -40), (20, -29), (30, -19), (26, -7), (16, -16), (32, -6), (45, -7), (44, 0), (41, -4), (-55, 170),
            (-50, 173), (-42, 149), (-50, 142), (-36, 134), (-37, 128), (-38, 121), (-38, 103), (-33, 101), (-31, 107), (-36, 82), (-30, 81),
            (-28, 72), (-32, 63), (-30, 61), (-26, 60), (-29, 47), (61, 19), (63, 45), (49, 24), (80, 23),
            (40, 195), (46, 185), (50, 200), (58, 205), (64, 195), (58, 182), (52, 172), (42, 168), (36, 175), (30, 180), (24, 190), (18, 205),
            (13, 215), (7, 200), (-5, 210), (-15, 205), (-25, 200), (-35, 195), (-42, 188), (-48, 183), (-46, 170), (-40, 175), (-35, 165),
            (-31, 155), (-45, 158), (30, 160), (38, 155), (46, 152), (54, 158), (62, 150), (70, 145), (76, 165), (84, 172), (34, 140), (42, 135),
            (48, 128), (56, 135), (64, 125), (70, 118), (30, 125), (30, 110), (38, 112), (46, 108), (54, 112), (62, 108), (26, 98), (34, 92),
            (42, 92), (50, 85), (56, 90), (40, 76), (30, 76), (48, 68), (54, 62), (28, 60), (34, 56), (44, 50), (30, 40), (40, 38), (50, 30),
            (58, 32), (34, 22), (26, 12), (36, 8), (18, -6), (22, -14), (12, -22), (8, -12), (-2, -28), (-8, -35), (2, -36)]
P4_RED = [(210, 280), (166, 264), (128, 257), (141, 245), (133, 233), (110, 230), (186, 240), (189, 242), (202, 245), (215, 251), (224, 251),
          (249, 252), (145, 216), (150, 220), (185, 219), (239, 214), (217, 213), (170, 207), (120, 209), (116, 203), (134, 203), (108, 196),
          (114, 198), (121, 198), (114, 192), (122, 191), (124, 190), (128, 191), (108, 183), (117, 183), (109, 178), (113, 174), (117, 173),
          (129, 172), (145, 175), (163, 182), (189, 187), (192, 176), (197, 179), (220, 190), (234, 192), (243, 161), (159, 161), (136, 162),
          (140, 155), (130, 156), (121, 160), (120, 158), (106, 163), (109, 157), (112, 154), (118, 152), (115, 150), (147, 149), (136, 147),
          (131, 140), (134, 140), (114, 139), (111, 138), (109, 134), (116, 128), (120, 125), (128, 127), (135, 119), (137, 114), (114, 110),
          (117, 111), (106, 101), (113, 94), (106, 68),
          (-57, 298), (-34, 297), (-58, 277), (-54, 269), (-38, 260), (-70, 255), (-88, 244), (-75, 247), (-80, 228), (-71, 226), (-63, 230),
          (-56, 230), (-46, 235), (-22, 247), (-11, 240), (5, 245), (7, 250), (17, 249), (39, 251), (41, 239), (27, 239), (29, 242), (36, 234),
          (55, 233), (62, 237), (67, 239), (91, 249), (92, 254), (140, 245), (132, 233), (149, 220), (82, 224), (101, 216),
          (91, 213), (93, 207), (85, 206), (61, 219), (44, 215), (34, 224), (46, 226), (30, 214), (34, 207),
          (23, 206), (18, 218), (102, 199), (101, 194), (90, 199), (86, 198),
          (77, 198), (68, 189), (73, 181), (61, 184), (86, 184), (95, 185), (98, 171), (89, 167), (82, 170), (70, 172), (61, 172),
          (101, 154), (90, 151), (93, 152), (79, 165), (70, 157), (102, 144), (97, 142), (126, 140), (87, 140), (77, 142), (68, 139),
          (90, 133), (99, 131), (84, 128), (91, 124), (94, 121), (104, 121), (100, 118), (81, 124), (77, 116), (83, 119), (90, 111),
          (81, 107), (97, 100), (92, 92), (89, 91), (79, 98), (107, 68), (86, 74), (89, 73), (79, 83), (82, 85), (81, 78), (76, 72), (71, 70), (83, 63),
          (78, 60), (84, 52), (100, 38), (98, 28), (91, 18), (79, 37), (84, 28), (74, 17), (70, 27), (67, 16), (57, -6), (71, -4), (74, -2), (80, -2),
          (66, 2), (64, 7), (48, -9), (37, -15), (16, -27), (-16, -21), (-13, -21), (-10, -34), (-4, -36), (4, -27), (-43, -6), (-61, 83), (-32, 39),
          (-27, 42), (-23, 41), (-29, 56), (-48, 163), (-43, 160),
          (40, 60), (46, 50), (50, 42), (56, 38), (62, 48), (47, 33), (38, 30), (36, 22), (43, 18), (52, 12), (30, 28), (32, 55), (30, 65), (34, 76),
          (38, 88), (44, 96), (36, 104), (40, 112), (48, 120), (56, 125), (62, 118), (70, 110), (75, 92), (66, 85), (60, 95), (56, 80), (66, 70), (60, 60),
          (52, 68), (46, 72), (64, 55), (58, 50), (68, 40), (46, 142), (56, 150), (38, 155), (28, 175), (20, 195), (12, 205), (0, 210), (-10, 205),
          (-22, 200), (-30, 205), (-38, 195), (-50, 205), (-60, 217), (-46, 178), (-35, 165), (40, 175), (50, 165), (62, 165), (74, 150), (82, 155),
          (76, 140), (66, 135), (58, 128), (52, 5), (58, 18), (44, 5), (38, 8), (30, 5)]

# points in the crowded fringe next to the core; the upper pair and the lower pair of panels look alike here
UPPER_FRINGE_BLACK = [(34, 170), (36, 178), (40, 176), (44, 180), (48, 184), (52, 188), (56, 192), (60, 194), (64, 190), (68, 196), (70, 200),
                      (74, 192), (78, 194), (82, 198), (86, 204), (66, 180), (70, 176), (74, 178), (76, 168), (80, 170), (64, 160), (68, 154),
                      (58, 156), (62, 158), (50, 176), (54, 178), (58, 182), (36, 150), (40, 148), (42, 158), (48, 146), (52, 136), (44, 140),
                      (38, 132), (34, 128), (36, 122), (40, 110), (44, 106), (48, 112), (54, 122), (58, 118), (62, 120), (66, 112), (70, 106),
                      (60, 96), (56, 92), (50, 94), (44, 96), (38, 98), (34, 100), (36, 84), (40, 78), (44, 74), (48, 78), (50, 66), (46, 64),
                      (36, 64), (34, 46), (38, 44), (42, 40), (30, 14), (34, 10), (28, 28), (24, 35), (22, -2), (16, 10), (20, 16), (12, -14),
                      (6, -18), (0, -18), (-6, -16), (-12, -10), (-16, 0), (-18, 14), (-21, 30), (-22, 50), (-23, 70), (-24, 96), (-22, 115),
                      (-20, 128), (-15, 146), (-8, 162), (-4, 168), (2, 175), (8, 190), (14, 194), (20, 195), (28, 200), (36, 200), (44, 198),
                      (50, 196), (34, 190), (36, 136), (33, 112), (35, 80), (34, 68), (-10, 156), (-2, 182), (4, 190), (-16, 138),
                      (47, 201), (55, 199), (63, 197), (71, 205), (77, 202), (42, 193), (49, 190), (59, 186), (66, 191), (72, 188), (80, 190),
                      (37, 185), (43, 187), (50, 183), (57, 176), (63, 181), (69, 184), (76, 183), (82, 186), (33, 176), (41, 173), (47, 172),
                      (53, 174), (60, 172), (67, 175), (72, 170), (79, 177), (86, 180), (30, 170), (37, 168), (44, 163), (50, 171), (57, 167),
                      (62, 165), (69, 168), (75, 173), (82, 168), (33, 162), (40, 165), (47, 160), (53, 158), (60, 162), (66, 164), (72, 166),
                      (78, 161), (30, 155), (36, 158), (43, 152), (50, 150), (57, 154), (63, 152), (70, 157), (75, 160), (32, 146), (39, 153),
                      (46, 149), (52, 144), (59, 148), (65, 143), (71, 151), (30, 141), (36, 144), (44, 136), (50, 131), (57, 140), (62, 137),
                      (68, 139), (33, 134), (40, 138), (47, 133), (55, 135), (60, 130), (66, 133), (31, 126), (37, 128), (44, 122), (50, 126),
                      (58, 132), (64, 124), (69, 127), (33, 119), (40, 124), (46, 116), (52, 112), (60, 122), (65, 115), (31, 113), (37, 104),
                      (44, 114), (49, 108), (55, 115), (62, 110), (68, 118), (29, 106), (35, 102), (42, 100), (47, 104), (53, 107), (63, 104),
                      (33, 96), (39, 90), (46, 99), (52, 101), (58, 104), (64, 96), (37, 88), (47, 86), (53, 90), (60, 86), (66, 90), (33, 84),
                      (40, 83), (45, 78), (50, 88), (56, 82), (63, 84), (35, 77), (42, 72), (49, 72), (55, 74), (61, 76), (34, 71), (40, 62),
                      (47, 68), (52, 65), (33, 60), (39, 58), (44, 60), (54, 60), (34, 52), (42, 48), (50, 52), (36, 44), (45, 46), (30, 42), (38, 36),
                      (48, 32), (28, 34), (40, 26), (26, 24), (34, 22), (44, 20), (28, 16), (38, 14), (26, 8), (42, 16)]
UPPER_FRINGE_RED = [(14, 31), (16, 29), (18, 30), (20, 31), (22, 27), (25, 33), (28, 34), (31, 38), (34, 40), (36, 34), (38, 40), (40, 33), (42, 30),
                    (44, 28), (46, 34), (48, 40), (50, 36), (52, 38), (40, 52), (44, 54), (48, 54), (52, 52), (38, 66), (42, 68), (46, 70), (38, 78),
                    (42, 90), (48, 90), (52, 92), (36, 110), (56, 66), (60, 74), (58, 88), (54, 102), (62, 100), (66, 84), (48, 64),
                    (34, 56), (37, 62), (33, 74), (35, 86), (36, 96), (40, 80), (43, 74), (47, 60), (51, 56), (55, 52), (59, 60), (63, 66), (60, 48),
                    (54, 44), (49, 46), (44, 42), (40, 44), (36, 46), (33, 42), (30, 36), (35, 30), (40, 24), (45, 22), (50, 26), (55, 34), (60, 38),
                    (65, 46), (68, 54), (71, 62), (74, 68), (70, 76), (65, 74), (60, 68), (56, 74), (52, 80), (48, 96), (44, 104), (50, 114), (57, 100),
                    (63, 108), (69, 100), (74, 90), (60, 124), (55, 136), (47, 140), (42, 146), (38, 142), (52, 160), (58, 168), (66, 152), (72, 144)]
LOWER_FRINGE_BLACK = [(-42, 178), (-38, 186), (-34, 192), (-28, 198), (-22, 190), (-16, 193), (-8, 198), (0, 196), (6, 192), (12, 190), (18, 186),
                      (22, 180), (26, 176), (30, 172), (34, 168), (28, 160), (24, 152), (30, 150), (34, 154), (26, 140), (28, 132), (32, 118), (26, 108),
                      (30, 86), (26, 76), (30, 56), (34, 48), (26, 44), (24, 34), (28, 16), (22, 26), (20, 10), (26, -2), (14, -4), (10, -18), (4, -20),
                      (-2, -22), (-8, -18), (-14, -14), (-18, 0), (-20, 12), (-22, 36), (-26, 42), (-24, 62), (-28, 88), (-30, 100), (-33, 120), (-34, 148),
                      (-36, 158), (-38, 166), (-30, 180), (-24, 182), (-12, 204), (-2, 204), (10, 210), (36, 188), (42, 182), (48, 188), (56, 176), (40, 162),
                      (48, 166), (58, 168), (42, 150), (50, 140), (40, 136), (56, 122), (44, 104), (40, 100), (48, 102), (56, 98), (36, 82), (44, 82), (42, 70),
                      (48, 76), (36, 48), (44, 40), (36, 26), (44, 26), (34, 12), (40, 4), (-18, 200), (-30, 190), (-40, 192), (-44, 186), (-26, 188), (30, 92),
                      (28, 122), (32, 136), (36, 118), (34, 72),
                      (-48, 196), (-42, 202), (-36, 204), (-30, 200), (-24, 208), (-18, 212), (-12, 196), (-6, 208), (2, 212), (8, 206), (14, 200), (20, 196),
                      (26, 192), (32, 186), (38, 180), (44, 176), (50, 180), (56, 168), (62, 172), (26, 168), (32, 162), (38, 164), (44, 158), (50, 156),
                      (56, 152), (62, 146), (27, 156), (33, 146), (38, 148), (44, 144), (52, 134), (58, 132), (26, 150), (30, 142), (36, 136), (42, 128),
                      (48, 122), (54, 126), (60, 120), (27, 128), (33, 124), (38, 122), (44, 114), (50, 108), (56, 110), (27, 116), (33, 110), (38, 104),
                      (42, 110), (26, 100), (32, 102), (37, 96), (42, 92), (47, 94), (26, 92), (34, 86), (40, 88), (46, 84), (52, 88), (26, 82), (32, 78),
                      (38, 72), (44, 74), (50, 68), (28, 68), (34, 64), (40, 66), (46, 60), (27, 54), (33, 56), (40, 54), (47, 52), (24, 48), (30, 44),
                      (38, 42), (44, 34), (26, 34), (32, 32), (40, 28), (24, 26), (30, 22), (36, 16), (24, 16), (30, 8), (22, 0), (28, 2), (18, -12), (24, -8),
                      (14, -14), (6, -26), (-6, -24), (-12, -22), (-30, 130), (-26, 120), (-32, 108), (-28, 66), (-25, 30), (-22, 20), (-18, 14)]
LOWER_FRINGE_RED = [(14, 33), (16, 30), (18, 32), (20, 30), (22, 35), (26, 34), (28, 40), (30, 46), (34, 42), (36, 38), (38, 44), (42, 38), (44, 42), (46, 46),
                    (48, 50), (50, 50), (54, 48), (52, 40), (56, 30), (38, 58), (42, 62), (44, 66), (48, 72), (50, 76), (36, 70), (40, 82), (44, 86), (48, 90),
                    (52, 96), (30, 82), (34, 114), (30, 120), (44, 128), (36, 140), (30, 152), (26, 160), (30, 180), (22, 176), (18, 195), (10, 192), (-2, 195),
                    (-18, 190), (-30, 196), (-42, 200), (-30, 160), (36, 92), (32, 102), (28, 70), (44, 112), (52, 104), (58, 62), (62, 72), (60, 84),
                    (32, 60), (35, 54), (30, 52), (33, 36), (38, 26), (42, 22), (48, 26), (52, 30), (46, 20), (40, 12), (34, 6), (30, 18), (26, 28), (28, 58),
                    (32, 66), (36, 76), (33, 88), (38, 98), (42, 76), (46, 92), (50, 84), (54, 74), (58, 68), (62, 58), (66, 62), (70, 66), (56, 56), (60, 42),
                    (64, 36), (58, 26), (62, 20), (54, 18), (48, 36), (44, 56), (40, 70), (52, 58), (48, 62), (56, 88), (62, 92), (66, 96), (70, 90), (58, 100),
                    (54, 112), (48, 108), (42, 104), (40, 122), (34, 128), (46, 136), (52, 144), (40, 148), (34, 160), (44, 170)]

# median cross per population: x, y, half width, half height
P1_CROSSES = [(5.9, 94.5, 18.8, 26.2), (14.8, 85.6, 18.7, 26.2)]
P2_CROSSES = [(5.7, 94.0, 18.5, 26.0), (15.0, 84.0, 18.5, 26.0)]
P3_CROSSES = [(-4.0, 106.0, 18.6, 26.0), (3.0, 106.0, 18.6, 26.4)]
P4_CROSSES = [(-4.0, 106.0, 18.8, 26.4), (3.0, 106.0, 18.8, 26.4)]

SCALE_TICKS = [-150, -50, 0, 50, 150, 250, 350]
SCALE_TEXT = ["-10<sup>4</sup>", "-10<sup>3</sup>", "0", "10<sup>3</sup>", "10<sup>4</sup>", "10<sup>5</sup>", "10<sup>6</sup>"]


def fx(px):
    return px / W


def fy(py):
    return 1 - py / H


def text_note(x, y, text, size=44, color="black", angle=0, anchor="center", xref="paper", yref="paper"):
    return dict(x=x, y=y, xref=xref, yref=yref, text=text, showarrow=False, textangle=angle, xanchor=anchor,
                yanchor="middle", font=dict(family=FONT, size=size, color=color))


def page_text(px, py, text, size=44, color="black", angle=0, anchor="center"):
    return text_note(fx(px), fy(py), text, size, color, angle, anchor)


def arrow(x0, y0, x1, y1, color="black", width=3.5):
    return dict(x=fx(x1), y=fy(y1), xref="paper", yref="paper", ax=x0 - x1, ay=y0 - y1, axref="pixel", ayref="pixel",
                text="", showarrow=True, arrowhead=2, arrowsize=1.6, arrowwidth=width, arrowcolor=color)


def decade_minors(lo, hi):
    out = []
    for start in range(lo, hi, 100):
        out += [start + 100 * math.log10(m) for m in range(2, 10)]
    return out


def scale_axis(left, right, tick_len):
    minors = [-v for v in decade_minors(50, 150)]
    return dict(domain=[left, right], tickmode="array", tickvals=SCALE_TICKS, ticktext=SCALE_TEXT, ticks="inside",
                ticklen=tick_len, tickwidth=3, showgrid=False, zeroline=False, showline=True, linewidth=4, automargin=False,
                linecolor="black", mirror="ticks", tickfont=dict(family=FONT, size=43, color="black"),
                minor=dict(tickmode="array", tickvals=minors, ticks="inside", ticklen=10, tickwidth=3, showgrid=False))


fig = go.Figure()

# panel a, main axes and inset share the same spectra
for name, xs, ys, color in [("Hoechst 33342", HOECHST_NM, HOECHST_VAL, BLUE), ("DCF", DCF_NM, DCF_VAL, GREEN),
                            ("CRDR", CRDR_NM, CRDR_VAL, "#111111"), ("PI", PI_NM, PI_VAL, RED),
                            ("(6,5)", SWCNT_NM, SWCNT_VAL, PURPLE)]:
    fig.add_trace(go.Scatter(x=xs, y=ys, mode="lines", name=name, line=dict(color=color, width=3.5), xaxis="x", yaxis="y"))
for name, xs, ys, color in [("DCF", DCF_NM, DCF_VAL, GREEN), ("CRDR", CRDR_NM, CRDR_VAL, "#111111"),
                            ("Hoechst 33342", HOECHST_NM, HOECHST_VAL, BLUE), ("PI", PI_NM, PI_VAL, RED),
                            ("(6,5)", SWCNT_NM, SWCNT_VAL, PURPLE)]:
    fig.add_trace(go.Scatter(x=xs, y=ys, mode="lines", name=name, line=dict(color=color, width=3.5), xaxis="x2", yaxis="y2"))

# panel b
PANELS = [
    (UPPER_HAZE, P1_BLOB, P1_BLACK + UPPER_FRINGE_BLACK, P1_RED + UPPER_FRINGE_RED, P1_CROSSES, "x3", "y3", 6),
    (UPPER_HAZE, P2_BLOB, P2_BLACK + UPPER_FRINGE_BLACK, P2_RED + UPPER_FRINGE_RED, P2_CROSSES, "x4", "y4", 6),
    (LOWER_HAZE, P3_BLOB, P3_BLACK + LOWER_FRINGE_BLACK, P3_RED + LOWER_FRINGE_RED, P3_CROSSES, "x5", "y5", 5),
    (LOWER_HAZE, P4_BLOB, P4_BLACK + LOWER_FRINGE_BLACK, P4_RED + LOWER_FRINGE_RED, P4_CROSSES, "x6", "y6", 5),
]
for haze, blob, black, red, crosses, xa, ya, size in PANELS:
    fig.add_trace(go.Scatter(x=[p[0] for p in haze], y=[p[1] for p in haze], mode="lines", fill="toself",
                             fillcolor="#1a1818", line=dict(width=0), xaxis=xa, yaxis=ya))
    fig.add_trace(go.Scatter(x=[p[0] for p in blob], y=[p[1] for p in blob], mode="lines", fill="toself",
                             fillcolor="#101111", line=dict(color="#101111", width=2), xaxis=xa, yaxis=ya))
    fig.add_trace(go.Scatter(x=[p[0] for p in black], y=[p[1] for p in black], mode="markers", name="Cell + PI",
                             marker=dict(symbol="square", size=size, color="#151515"), xaxis=xa, yaxis=ya))
    fig.add_trace(go.Scatter(x=[p[0] for p in red], y=[p[1] for p in red], mode="markers", name="Cell w/ (6,5) + PI",
                             marker=dict(symbol="square", size=size, color="#ee1c25"), xaxis=xa, yaxis=ya))
    for (cx, cy, hx, hy), color in zip(crosses, ["#000000", "#8a1010"]):
        fig.add_trace(go.Scatter(x=[cx], y=[cy], mode="markers", marker=dict(size=1, opacity=0),
                                 error_x=dict(type="constant", value=hx, thickness=4, width=0, color=color),
                                 error_y=dict(type="constant", value=hy, thickness=4, width=0, color=color),
                                 xaxis=xa, yaxis=ya))

# key of the last scatter panel
fig.add_trace(go.Scatter(x=[55.7], y=[-68], mode="markers", marker=dict(symbol="square", size=22, color="#111111"),
                         xaxis="x6", yaxis="y6"))
fig.add_trace(go.Scatter(x=[55.7], y=[-105], mode="markers", marker=dict(symbol="square", size=22, color="#ee1c25"),
                         xaxis="x6", yaxis="y6"))

# panel c
for name, vals, color in [("AF", AF_SHARE, "#ff8a47"), ("SO", SO_SHARE, "#58ff33"), ("Target", TARGET_SHARE, "#9476fb")]:
    fig.add_trace(go.Bar(x=BAR_POS, y=vals, name=name, width=0.7, marker=dict(color=color, line=dict(color="black", width=4)),
                         xaxis="x7", yaxis="y7"))

axis_base = dict(showgrid=False, zeroline=False, showline=True, linewidth=4, linecolor="black", mirror="ticks", automargin=False,
                 ticks="inside", tickwidth=3, tickfont=dict(family=FONT, size=44, color="black"))

layout = dict(
    width=W, height=H, autosize=False, margin=dict(l=0, r=0, t=0, b=0), paper_bgcolor="white", plot_bgcolor="rgba(0,0,0,0)",
    showlegend=False, barmode="stack", font=dict(family=FONT, color="black"),
    xaxis=dict(axis_base, domain=[fx(266), fx(1323)], range=[900, 1400], anchor="y", tick0=900, dtick=100, ticklen=23,
               ticklabelstandoff=4, minor=dict(dtick=20, ticks="inside", ticklen=10, tickwidth=3, showgrid=False)),
    yaxis=dict(axis_base, domain=[fy(860), fy(58.5)], range=[0, 0.3801], anchor="x", tick0=0, dtick=0.05, tickformat=".2f", ticklen=22,
               ticklabelstandoff=0, minor=dict(dtick=0.025, ticks="inside", ticklen=11, tickwidth=3, showgrid=False)),
    xaxis2=dict(domain=[fx(750), fx(1272)], range=[900, 1200], anchor="y2", tickmode="array", tickvals=[900, 1000, 1100], ticks="outside",
                ticklen=15, tickwidth=2, automargin=False, showgrid=False, zeroline=False, showline=True, linewidth=2, linecolor="black",
                ticklabelstandoff=9, tickfont=dict(family=FONT, size=35, color="black"),
                minor=dict(tickmode="array", tickvals=[950, 1050, 1150], ticks="outside", ticklen=10, tickwidth=2, showgrid=False)),
    yaxis2=dict(domain=[fy(694), fy(104)], range=[-0.000298, 0.001996], anchor="x2", tick0=0, dtick=0.0005, tickformat=".4f", ticks="outside",
                ticklen=22, tickwidth=2, automargin=False, showgrid=False, zeroline=False, showline=True, linewidth=2, linecolor="black",
                tickfont=dict(family=FONT, size=35, color="black"),
                minor=dict(dtick=0.00025, ticks="outside", ticklen=11, tickwidth=2, showgrid=False)),
    xaxis7=dict(axis_base, domain=[fx(266), fx(1323)], range=[-0.49, 3.5], anchor="y7", tickmode="array", tickvals=BAR_POS, ticktext=BAR_LABELS,
                mirror=True, ticklen=18, ticklabelstandoff=0,
                minor=dict(tickmode="array", tickvals=[2.5], ticks="inside", ticklen=7, tickwidth=3, showgrid=False)),
    yaxis7=dict(axis_base, domain=[fy(1948), fy(1147)], range=[0, 110], anchor="x7", tick0=0, dtick=20, ticklen=22, ticklabelstandoff=0,
                minor=dict(dtick=10, ticks="inside", ticklen=10, tickwidth=3, showgrid=False)),
)

CELLS = [("3", 1570, 2479, 60, 862), ("4", 2763, 3673, 60, 862), ("5", 1570, 2479, 1148, 1949), ("6", 2763, 3673, 1148, 1949)]
for idx, left, right, top, bottom in CELLS:
    x_ax = scale_axis(fx(left), fx(right), 24)
    x_ax.update(range=[-150, 250], anchor="y" + idx, ticklabelstandoff=9)
    x_ax["minor"]["tickvals"] = x_ax["minor"]["tickvals"] + decade_minors(50, 250)
    y_ax = scale_axis(fy(bottom), fy(top), 25)
    y_ax.update(range=[-150, 350], anchor="x" + idx, ticklabelstandoff=14)
    y_ax["minor"]["tickvals"] = y_ax["minor"]["tickvals"] + decade_minors(50, 350)
    layout["xaxis" + idx] = x_ax
    layout["yaxis" + idx] = y_ax

notes = [
    page_text(16, 39, "<b>a</b>", 56), page_text(1378, 39, "<b>b</b>", 56), page_text(16, 1130, "<b>c</b>", 56),
    page_text(795, 986, "Wavelength (nm)", 52),
    page_text(34, 459, "Emission intensity", 52, angle=-90),
    page_text(107, 459, "(mW m<sup>−2</sup> nm<sup>−1</sup> s<sup>−1</sup> μM<sup>−1</sup>)", 48, angle=-90),
    page_text(487, 416, "PI<br>14.13", 43, RED), page_text(370, 781, "(6,5)<br>1.0", 43, PURPLE),
    page_text(933, 284, "CRDR<br>0.09", 43), page_text(1018, 385, "DCF<br>0.05", 43, GREEN),
    page_text(1074, 665, "Hoechst 33342 0.01", 44, BLUE),
    arrow(418, 439, 366, 489, RED), arrow(411, 784, 444, 815, PURPLE), arrow(909, 349, 864, 416),
    arrow(1000, 446, 958, 499, GREEN), arrow(937, 636, 878, 612, BLUE),
    page_text(527, 1118, "Cell + PI", 43), page_text(1058, 1118, "Cell w/ (6,5) + PI", 43),
    page_text(100, 1546, "% of total intensity", 51, angle=-90), page_text(788, 2059, "Channel", 52),
    page_text(860, 1174, "Target", 36, anchor="left"), page_text(1078, 1174, "SO", 36, anchor="left"),
    page_text(1232, 1174, "AF", 36, anchor="left"),
    page_text(1600, 111, "No compensation", 44, anchor="left"),
    page_text(2789, 111, "Compensated for (6,5)-to-PI spillover", 44, anchor="left"),
    page_text(1600, 1199, "Compensated for PI-to-(6,5) spillover", 44, anchor="left"),
    page_text(2789, 1199, "Compensated for both spillovers", 46, anchor="left"),
    page_text(3289, 1818, "Cell + PI", 39, anchor="left"), page_text(3289, 1877, "Cell w/ (6,5) + PI", 39, anchor="left"),
    page_text(2548, 253, "PI − 35% (6,5)", 42, angle=-90),
    page_text(1832, 1071, "(6,5) − 5% PI", 42),
    page_text(2699, 958, "PI − 35% (6,5)", 42, angle=44.5),
    page_text(2616, 996, "(6,5) − 5% PI", 42, angle=44.5),
    arrow(2507, 471, 2603, 471), arrow(2024, 1017, 2024, 1121), arrow(2555, 877, 2773, 1091),
]
for idx, left, right, top, bottom in CELLS:
    notes.append(page_text((left + right) / 2, bottom + 124 if top == 60 else bottom + 110, "(6,5) channel intensity (counts)", 52))
    notes.append(page_text(left - 128, (top + bottom) / 2, "PI channel intensity (counts)", 52, angle=-90))
for pos, val, label in BAR_TEXT:
    notes.append(text_note(pos, val, label, 35, xref="x7", yref="y7"))
layout["annotations"] = notes

shapes = [dict(type="line", xref="x7", yref="y7", x0=1.5, x1=1.5, y0=0, y1=110, line=dict(color="black", width=4))]
for val in range(20, 101, 20):
    shapes.append(dict(type="line", xref="x7", yref="y7", xsizemode="pixel", xanchor=1.5, x0=-24, x1=24, y0=val, y1=val,
                       line=dict(color="black", width=3)))
for val in range(10, 100, 20):
    shapes.append(dict(type="line", xref="x7", yref="y7", xsizemode="pixel", xanchor=1.5, x0=-10, x1=10, y0=val, y1=val,
                       line=dict(color="black", width=3)))
shapes.append(dict(type="rect", xref="paper", yref="paper", x0=fx(762), x1=fx(1292), y0=fy(1200), y1=fy(1148),
                   fillcolor="white", line=dict(color="black", width=3)))
for x0, x1, color in [(771, 845, "#9476fb"), (989, 1062, "#58ff33"), (1145, 1216, "#ff8a47")]:
    shapes.append(dict(type="rect", xref="paper", yref="paper", x0=fx(x0), x1=fx(x1), y0=fy(1189), y1=fy(1158),
                       fillcolor=color, line=dict(color="black", width=3)))
layout["shapes"] = shapes

fig.update_layout(layout)
fig.write_html("out.html", config=dict(displayModeBar=False), post_script="document.body.style.margin = '0';")
